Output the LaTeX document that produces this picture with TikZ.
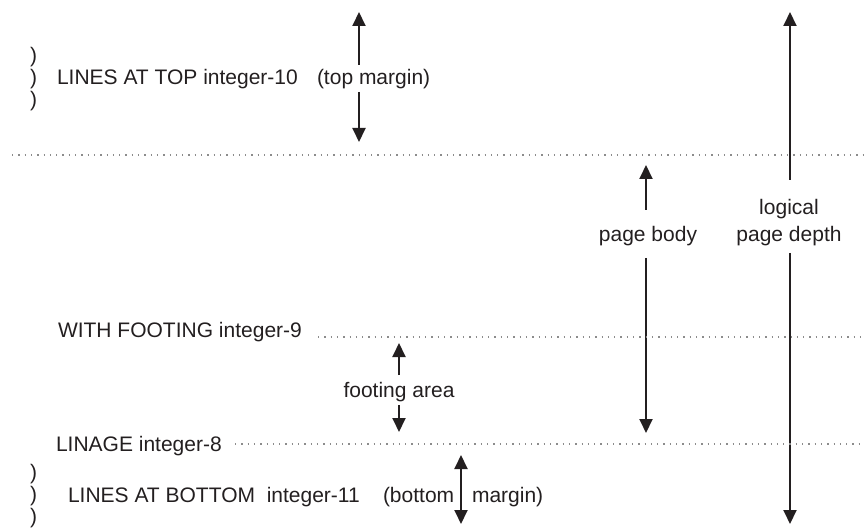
\documentclass[tikz,border=0pt]{standalone}
\usepackage{fontspec}
\setmainfont{Liberation Sans}
\usetikzlibrary{arrows.meta}
\definecolor{ink}{RGB}{35,31,32}
\definecolor{dotgray}{RGB}{140,140,140}
\begin{document}
\begin{tikzpicture}[x=1pt,y=-1pt,
  every node/.style={inner sep=0pt,outer sep=0pt,text=ink,font=\fontsize{21}{26}\selectfont},
  lbl/.style={anchor=base west},
  clbl/.style={anchor=base},
  arr/.style={draw=ink,line width=1.9pt,-{Triangle[width=13pt,length=14pt]}},
  darr/.style={draw=ink,line width=1.9pt,{Triangle[width=13pt,length=14pt]}-{Triangle[width=13pt,length=14pt]}},
  dotline/.style={draw=dotgray,line width=1.3pt,dash pattern=on 1.3pt off 5pt}]
\useasboundingbox (0,0) rectangle (864,529);

% top margin block
\node[lbl] (pa1) at (30,63) {)};
\node[lbl] (pa2) at (30,85) {)};
\node[lbl] (pa3) at (30,107) {)};
\node[lbl] (top) at (57,85) {LINES AT TOP integer-10};
\node[lbl] (topm) at (317,85) {(top margin)};
\coordinate (tmA) at (359,12);
\coordinate (tmB) at (359,65);
\coordinate (tmC) at (359,92);
\coordinate (tmD) at (359,142);
\draw[arr] (tmB) -- (tmA);
\draw[arr] (tmC) -- (tmD);

% dotted line 1
\coordinate (d1a) at (12,155);
\coordinate (d1b) at (864,155);
\draw[dotline] (d1a) -- (d1b);

% logical page depth
\node[clbl] (lg1) at (789,215) {logical};
\node[clbl] (lg2) at (789,242) {page depth};
\coordinate (lpA) at (790,12);
\coordinate (lpB) at (790,180);
\coordinate (lpC) at (790,253);
\coordinate (lpD) at (790,524);
\draw[arr] (lpB) -- (lpA);
\draw[arr] (lpC) -- (lpD);

% page body
\node[clbl] (pb) at (648,242) {page body};
\coordinate (pbA) at (646,165);
\coordinate (pbB) at (646,210);
\coordinate (pbC) at (646,258);
\coordinate (pbD) at (646,433);
\draw[arr] (pbB) -- (pbA);
\draw[arr] (pbC) -- (pbD);

% with footing
\node[lbl] (wf) at (58,337) {WITH FOOTING integer-9};
\coordinate (d2a) at (318,337);
\coordinate (d2b) at (864,337);
\draw[dotline] (d2a) -- (d2b);

% footing area
\node[clbl] (fa) at (399,397) {footing area};
\coordinate (faA) at (399,343);
\coordinate (faB) at (399,375);
\coordinate (faC) at (399,405);
\coordinate (faD) at (399,432);
\draw[arr] (faB) -- (faA);
\draw[arr] (faC) -- (faD);

% linage
\node[lbl] (lin) at (56,451) {LINAGE integer-8};
\coordinate (d3a) at (235,444);
\coordinate (d3b) at (864,444);
\draw[dotline] (d3a) -- (d3b);

% bottom margin block
\node[lbl] (pb1) at (30,479) {)};
\node[lbl] (pb2) at (30,501) {)};
\node[lbl] (pb3) at (30,523) {)};
\node[lbl] (bot) at (68,502) {LINES AT BOTTOM\ \ integer-11};
\node[lbl] (bm1) at (383,502) {(bottom};
\node[lbl] (bm2) at (472,502) {margin)};
\coordinate (bmA) at (461,455);
\coordinate (bmB) at (461,524);
\draw[darr] (bmA) -- (bmB);
\end{tikzpicture}
\end{document}
